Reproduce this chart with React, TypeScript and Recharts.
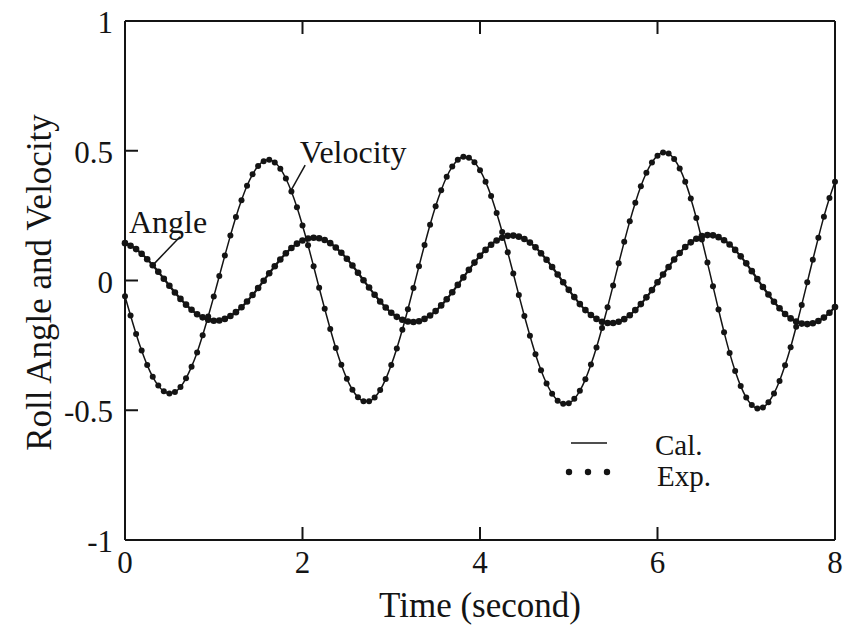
import {
  Label,
  Legend,
  Line,
  LineChart,
  ReferenceDot,
  ReferenceLine,
  XAxis,
  YAxis,
} from "recharts";

const INK = "#141414";
const FONT = '"Liberation Serif", "Times New Roman", serif';

// sampling interval of the roll test, seconds
const SAMPLE_STEP = 0.0625;

// roll angle (rad), one value per sample from t = 0 to 8 s
const angle = [
  0.144, 0.134, 0.121, 0.103, 0.082, 0.059, 0.034, 0.007, -0.02, -0.046,
  -0.071, -0.093, -0.113, -0.13, -0.142, -0.151, -0.155, -0.154, -0.148,
  -0.137, -0.122, -0.103, -0.081, -0.056, -0.029, -0.001, 0.028, 0.055, 0.081,
  0.105, 0.125, 0.142, 0.154, 0.162, 0.165, 0.163, 0.156, 0.144, 0.127, 0.107,
  0.084, 0.058, 0.03, 0.001, -0.027, -0.055, -0.081, -0.104, -0.124, -0.14,
  -0.151, -0.158, -0.16, -0.157, -0.148, -0.135, -0.118, -0.096, -0.072,
  -0.045, -0.017, 0.012, 0.041, 0.069, 0.095, 0.118, 0.138, 0.154, 0.165,
  0.172, 0.173, 0.169, 0.16, 0.146, 0.128, 0.105, 0.08, 0.052, 0.023, -0.007,
  -0.036, -0.064, -0.091, -0.114, -0.133, -0.148, -0.159, -0.164, -0.164,
  -0.159, -0.149, -0.134, -0.114, -0.091, -0.065, -0.037, -0.007, 0.023, 0.052,
  0.081, 0.106, 0.129, 0.147, 0.161, 0.171, 0.175, 0.174, 0.167, 0.155, 0.139,
  0.118, 0.093, 0.066, 0.036, 0.006, -0.025, -0.054, -0.082, -0.107, -0.129,
  -0.146, -0.158, -0.166, -0.168, -0.165, -0.156, -0.143, -0.124, -0.102,
];

// roll velocity (rad/s), same samples
const velocity = [
  -0.061, -0.135, -0.206, -0.27, -0.326, -0.371, -0.405, -0.427, -0.435,
  -0.43, -0.41, -0.377, -0.332, -0.277, -0.211, -0.139, -0.062, 0.017, 0.096,
  0.173, 0.245, 0.309, 0.365, 0.409, 0.441, 0.46, 0.465, 0.455, 0.431, 0.393,
  0.343, 0.282, 0.212, 0.136, 0.055, -0.028, -0.109, -0.187, -0.26, -0.325,
  -0.379, -0.421, -0.45, -0.465, -0.465, -0.451, -0.422, -0.38, -0.326, -0.262,
  -0.19, -0.111, -0.029, 0.055, 0.137, 0.215, 0.286, 0.348, 0.4, 0.439, 0.465,
  0.477, 0.473, 0.456, 0.425, 0.381, 0.326, 0.26, 0.187, 0.109, 0.027, -0.056,
  -0.137, -0.213, -0.284, -0.346, -0.397, -0.436, -0.463, -0.475, -0.473,
  -0.456, -0.425, -0.381, -0.324, -0.258, -0.183, -0.103, -0.019, 0.066, 0.149,
  0.228, 0.3, 0.363, 0.415, 0.455, 0.481, 0.493, 0.489, 0.468, 0.432, 0.381,
  0.316, 0.241, 0.158, 0.069, -0.022, -0.112, -0.199, -0.279, -0.349, -0.407,
  -0.451, -0.48, -0.493, -0.489, -0.469, -0.435, -0.387, -0.327, -0.257,
  -0.178, -0.094, -0.007, 0.08, 0.165, 0.246, 0.318, 0.381,
];

const xTicks = [0, 2, 4, 6, 8];
const yTicks = [-1, -0.5, 0, 0.5, 1];

// curve names and their leader lines, in (time, value)
const velocityText = { t: 1.97, v: 0.452 };
const velocityLeader = [
  { x: 1.86, y: 0.341 },
  { x: 2.03, y: 0.445 },
];
const angleText = { t: 0.045, v: 0.183 };
const angleLeader = [
  { x: 0.33, y: 0.065 },
  { x: 0.62, y: 0.169 },
];

const chartData = angle.map((a, i) => ({
  t: i * SAMPLE_STEP,
  angle: a,
  velocity: velocity[i],
}));

const TICK_LEN = 13;

const LeftTick = ({ x, y, payload }: any) => (
  <g>
    <line x1={x} y1={y} x2={x + TICK_LEN} y2={y} stroke={INK} strokeWidth={2} />
    <text
      x={x - 12}
      y={y + 12}
      textAnchor="end"
      fontFamily={FONT}
      fontSize={31}
      fill={INK}
    >
      {payload.value}
    </text>
  </g>
);

const RightTick = ({ x, y }: any) => (
  <line x1={x} y1={y} x2={x - TICK_LEN} y2={y} stroke={INK} strokeWidth={2} />
);

const BottomTick = ({ x, y, payload }: any) => (
  <g>
    <line x1={x} y1={y} x2={x} y2={y - TICK_LEN} stroke={INK} strokeWidth={2} />
    <text
      x={x}
      y={y + 33}
      textAnchor="middle"
      fontFamily={FONT}
      fontSize={31}
      fill={INK}
    >
      {payload.value}
    </text>
  </g>
);

const TopTick = ({ x, y }: any) => (
  <line x1={x} y1={y} x2={x} y2={y + TICK_LEN} stroke={INK} strokeWidth={2} />
);

const YTitle = ({ viewBox }: any) => {
  const cx = viewBox.x + viewBox.width - 86;
  const cy = viewBox.y + viewBox.height / 2 + 2;
  return (
    <text
      x={cx}
      y={cy}
      transform={`rotate(-90, ${cx}, ${cy})`}
      textAnchor="middle"
      dominantBaseline="central"
      fontFamily={FONT}
      fontSize={35}
      fill={INK}
    >
      Roll Angle and Velocity
    </text>
  );
};

const XTitle = ({ viewBox }: any) => (
  <text
    x={viewBox.x + viewBox.width / 2}
    y={viewBox.y + 77}
    textAnchor="middle"
    fontFamily={FONT}
    fontSize={35}
    fill={INK}
  >
    Time (second)
  </text>
);

const curveName = (name: string) => (p: any) => (
  <text x={p.cx} y={p.cy} fontFamily={FONT} fontSize={32} fill={INK}>
    {name}
  </text>
);

const LegendBox = () => (
  <svg width={170} height={72} style={{ display: "block" }}>
    <line x1={11} y1={18} x2={47} y2={18} stroke={INK} strokeWidth={1.5} />
    {[9, 28, 47].map((cx) => (
      <circle key={cx} cx={cx} cy={47} r={3.2} fill={INK} />
    ))}
    <text x={95} y={30} fontFamily={FONT} fontSize={29} fill={INK}>
      Cal.
    </text>
    <text x={97} y={61} fontFamily={FONT} fontSize={29} fill={INK}>
      Exp.
    </text>
  </svg>
);

const velocityDot = { r: 3, fill: INK, stroke: INK, strokeWidth: 0 };
const angleDot = { r: 3.3, fill: INK, stroke: INK, strokeWidth: 0 };

export default function App() {
  return (
    <div
      style={{
        position: "absolute",
        left: 0,
        top: 0,
        width: 849,
        height: 636,
        background: "#fff",
      }}
    >
      <LineChart
        width={849}
        height={636}
        data={chartData}
        margin={{ top: 20, right: 13, bottom: 95, left: 124 }}
      >
        <XAxis
          dataKey="t"
          type="number"
          domain={[0, 8]}
          ticks={xTicks}
          height={1}
          tickSize={0}
          tickMargin={0}
          tickLine={false}
          tick={<BottomTick />}
          axisLine={{ stroke: INK, strokeWidth: 2 }}
        >
          <Label content={<XTitle />} />
        </XAxis>
        <XAxis
          xAxisId="top"
          orientation="top"
          dataKey="t"
          type="number"
          domain={[0, 8]}
          ticks={xTicks}
          height={1}
          tickSize={0}
          tickMargin={0}
          tickLine={false}
          tick={<TopTick />}
          axisLine={{ stroke: INK, strokeWidth: 2 }}
        />
        <YAxis
          type="number"
          domain={[-1, 1]}
          ticks={yTicks}
          width={1}
          tickSize={0}
          tickMargin={0}
          tickLine={false}
          tick={<LeftTick />}
          axisLine={{ stroke: INK, strokeWidth: 2 }}
        >
          <Label content={<YTitle />} />
        </YAxis>
        <YAxis
          yAxisId="right"
          orientation="right"
          type="number"
          domain={[-1, 1]}
          ticks={yTicks}
          width={1}
          tickSize={0}
          tickMargin={0}
          tickLine={false}
          tick={<RightTick />}
          axisLine={{ stroke: INK, strokeWidth: 2 }}
        />

        <Line
          type="monotone"
          dataKey="angle"
          stroke={INK}
          strokeWidth={2.2}
          dot={angleDot}
          activeDot={false}
          isAnimationActive={false}
        />
        <Line
          type="monotone"
          dataKey="velocity"
          stroke={INK}
          strokeWidth={1.5}
          dot={velocityDot}
          activeDot={false}
          isAnimationActive={false}
        />

        <ReferenceLine segment={velocityLeader} stroke={INK} strokeWidth={1.5} />
        <ReferenceLine segment={angleLeader} stroke={INK} strokeWidth={1.5} />
        <ReferenceDot
          x={velocityText.t}
          y={velocityText.v}
          r={0}
          shape={curveName("Velocity")}
        />
        <ReferenceDot
          x={angleText.t}
          y={angleText.v}
          r={0}
          shape={curveName("Angle")}
        />

        <Legend
          content={<LegendBox />}
          layout="horizontal"
          verticalAlign="middle"
          align="center"
          wrapperStyle={{ left: 560, top: 425, width: 170, height: 72 }}
        />
      </LineChart>
    </div>
  );
}
